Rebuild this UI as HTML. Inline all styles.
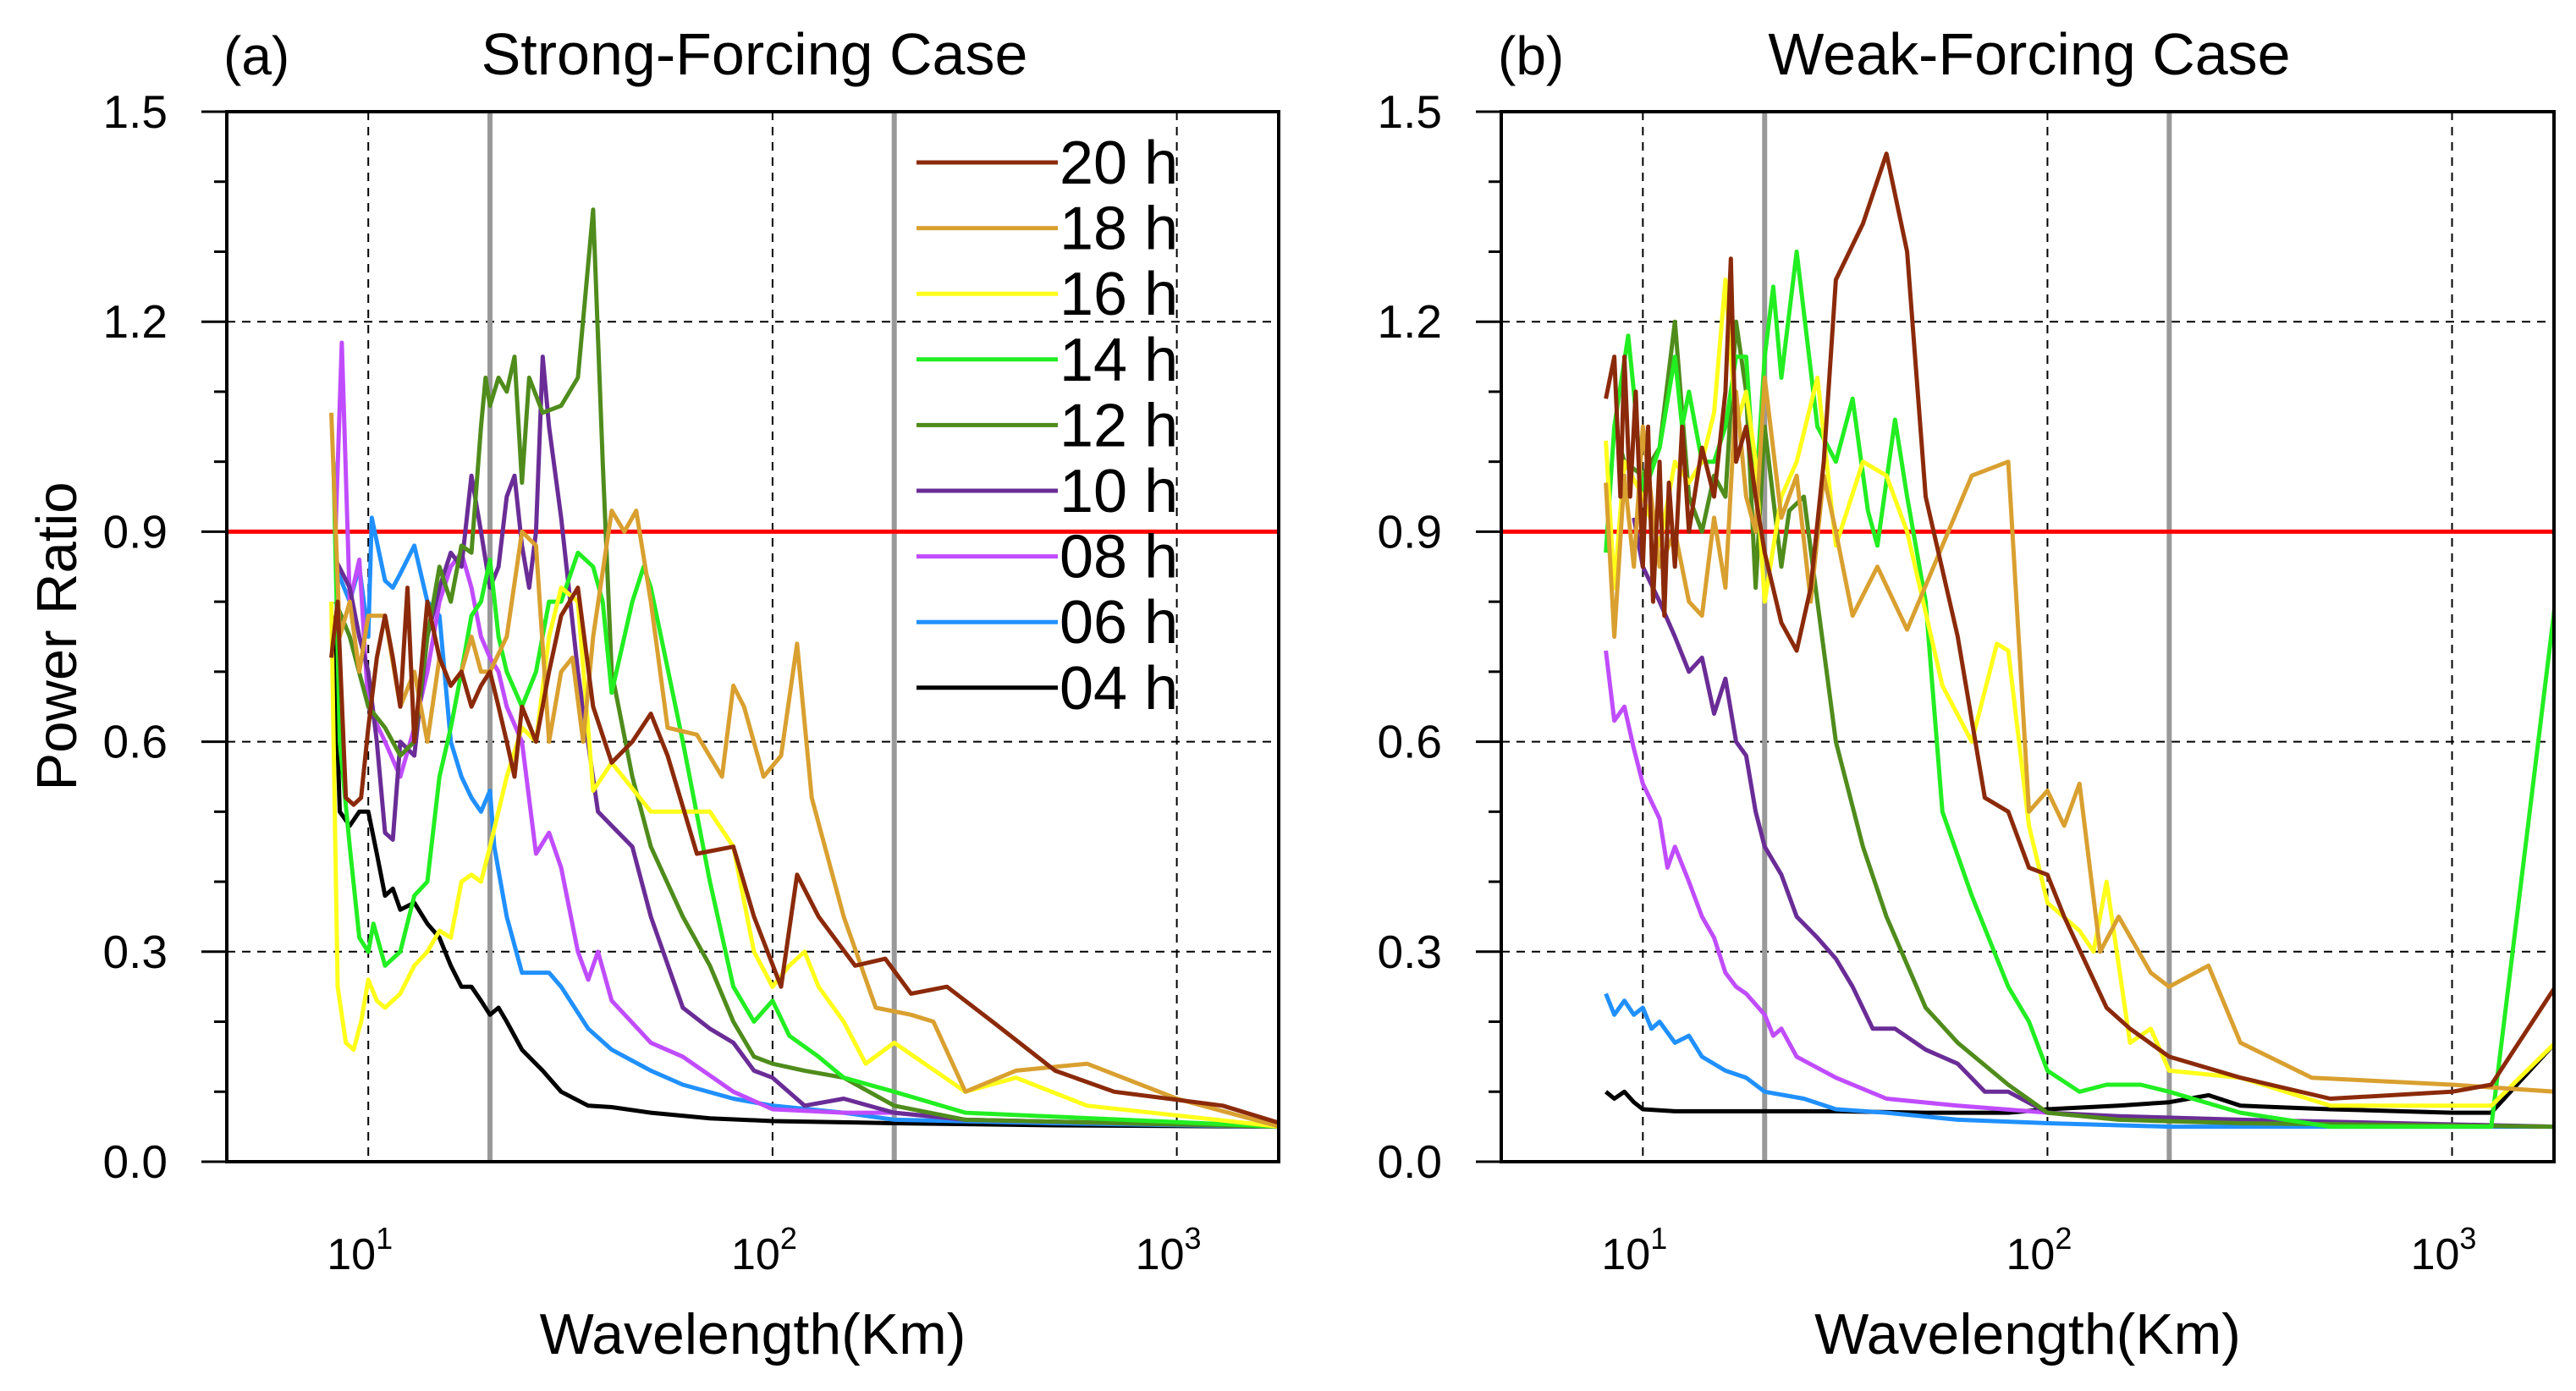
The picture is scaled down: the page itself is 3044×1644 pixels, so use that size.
<!DOCTYPE html>
<html><head><meta charset="utf-8"><style>
html,body{margin:0;padding:0;background:#fff}
svg{display:block;font-family:"Liberation Sans",sans-serif}
</style></head><body>
<svg id="chart" width="3044" height="1644" viewBox="0 0 3044 1644" xmlns="http://www.w3.org/2000/svg"></svg>
<script>
const yTicks = [0.0, 0.3, 0.6, 0.9, 1.2, 1.5];
const yTickLabels = ["0.0", "0.3", "0.6", "0.9", "1.2", "1.5"];
const xGrid = [10, 100, 1000];
const xTickExps = ["1", "2", "3"];
const refLines = [20, 200];
const threshold = 0.9;
const seriesNames = ["20 h","18 h","16 h","14 h","12 h","10 h","08 h","06 h","04 h"];
const seriesColors = ["#8b2a0a","#d9a030","#ffff1a","#22ee22","#4f8c1c","#6a2c96","#c04cff","#2090ff","#000000"];

// Panel (a) strong forcing
const a04x=[8.2,8.5,9,9.5,10,10.5,11,11.5,12,13,14,15,16,17,18,19,20,21,22,24,27,30,35,40,50,70,100,200,500,1800];
const a04y=[0.78,0.5,0.48,0.5,0.5,0.44,0.38,0.39,0.36,0.37,0.34,0.32,0.28,0.25,0.25,0.23,0.21,0.22,0.2,0.16,0.13,0.1,0.08,0.078,0.07,0.062,0.058,0.055,0.052,0.05];
const a06x=[8.3,9,9.5,10,10.2,11,11.5,12,13,14,15,16,17,18,19,20,20.5,22,24,26,28,30,35,40,50,60,80,100,150,200,500,1800];
const a06y=[0.85,0.8,0.85,0.75,0.92,0.83,0.82,0.84,0.88,0.8,0.78,0.6,0.55,0.52,0.5,0.53,0.45,0.35,0.27,0.27,0.27,0.25,0.19,0.16,0.13,0.11,0.09,0.08,0.07,0.06,0.055,0.05];
const a08x=[8.3,8.6,9,9.5,10,11,12,13,14,15,16,17,18,19,20,21,22,24,26,28,30,33,35,37,40,50,60,80,100,150,200,300,1800];
const a08y=[0.9,1.17,0.8,0.86,0.65,0.6,0.55,0.62,0.7,0.8,0.85,0.87,0.82,0.75,0.72,0.7,0.65,0.6,0.44,0.47,0.42,0.3,0.26,0.3,0.23,0.17,0.15,0.1,0.075,0.07,0.07,0.06,0.05];
const a10x=[8.3,9,9.5,10,10.5,11,11.5,12,13,14,15,16,17,18,19,20,21,22,23,24,25,26,27,28,30,33,37,40,45,50,60,70,80,90,100,120,150,200,300,1800];
const a10y=[0.86,0.82,0.75,0.7,0.6,0.47,0.46,0.6,0.58,0.75,0.82,0.87,0.85,0.98,0.9,0.82,0.85,0.95,0.98,0.88,0.82,0.9,1.15,1.05,0.92,0.7,0.5,0.48,0.45,0.35,0.22,0.19,0.17,0.13,0.12,0.08,0.09,0.07,0.06,0.05];
const a12x=[8.3,9,10,11,12,13,14,15,16,17,18,19,19.5,20,21,22,23,24,25,27,30,33,36,38,40,45,50,60,70,80,90,100,120,150,200,300,1800];
const a12y=[0.8,0.75,0.65,0.62,0.58,0.6,0.75,0.85,0.8,0.88,0.87,1.05,1.12,1.08,1.12,1.1,1.15,0.97,1.12,1.07,1.08,1.12,1.36,1.0,0.7,0.55,0.45,0.35,0.28,0.2,0.15,0.14,0.13,0.12,0.08,0.06,0.05];
const a14x=[8.2,8.5,9,9.5,10,10.3,11,12,13,14,15,16,17,18,19,20,21,22,24,26,28,30,33,36,38,40,45,48,50,60,70,80,90,100,110,130,150,200,300,1800];
const a14y=[1.0,0.6,0.45,0.32,0.3,0.34,0.28,0.3,0.38,0.4,0.55,0.62,0.7,0.78,0.8,0.86,0.75,0.7,0.65,0.7,0.8,0.8,0.87,0.85,0.8,0.67,0.8,0.85,0.82,0.6,0.4,0.25,0.2,0.23,0.18,0.15,0.12,0.1,0.07,0.05];
const a16x=[8.1,8.4,8.8,9.2,9.6,10,10.5,11,12,13,14,15,16,17,18,19,20,22,24,26,28,30,33,36,40,50,60,70,80,90,100,110,120,130,150,170,200,300,400,600,1800];
const a16y=[0.8,0.25,0.17,0.16,0.2,0.26,0.23,0.22,0.24,0.28,0.3,0.33,0.32,0.4,0.41,0.4,0.45,0.55,0.62,0.6,0.75,0.82,0.8,0.53,0.57,0.5,0.5,0.5,0.45,0.3,0.25,0.28,0.3,0.25,0.2,0.14,0.17,0.1,0.12,0.08,0.05];
const a18x=[8.1,8.5,9,9.5,10,11,12,13,14,15,16,17,18,19,20,22,24,26,28,30,32,34,36,40,43,46,50,55,65,75,80,85,95,105,115,125,150,180,220,250,300,400,600,1000,1800];
const a18y=[1.07,0.75,0.8,0.7,0.78,0.78,0.65,0.7,0.6,0.72,0.68,0.7,0.75,0.7,0.7,0.75,0.9,0.88,0.6,0.7,0.72,0.6,0.75,0.93,0.9,0.93,0.8,0.62,0.61,0.55,0.68,0.65,0.55,0.58,0.74,0.52,0.35,0.22,0.21,0.2,0.1,0.13,0.14,0.09,0.05];
const a20x=[8.1,8.4,8.8,9.2,9.6,10,10.5,11,11.5,12,12.5,13,13.5,14,15,16,17,18,19,20,21,22,23,24,26,28,30,33,36,40,45,50,55,65,80,90,105,115,130,160,190,220,270,350,500,700,1300,1800];
const a20y=[0.72,0.8,0.52,0.51,0.52,0.62,0.72,0.78,0.72,0.65,0.82,0.6,0.7,0.8,0.72,0.68,0.7,0.65,0.68,0.7,0.65,0.6,0.55,0.65,0.6,0.7,0.78,0.82,0.65,0.57,0.6,0.64,0.58,0.44,0.45,0.35,0.25,0.41,0.35,0.28,0.29,0.24,0.25,0.2,0.13,0.1,0.08,0.055];

// Panel (b) weak forcing
const b04x=[8.1,8.5,9,9.5,10,12,15,20,30,50,80,100,150,200,250,300,500,1000,1250,1500,1800];
const b04y=[0.1,0.09,0.1,0.085,0.075,0.072,0.072,0.072,0.072,0.07,0.07,0.075,0.08,0.085,0.095,0.08,0.075,0.07,0.07,0.12,0.17];
const b06x=[8.1,8.5,9,9.5,10,10.5,11,12,13,14,16,18,20,25,30,40,60,100,200,1800];
const b06y=[0.24,0.21,0.23,0.21,0.22,0.19,0.2,0.17,0.18,0.15,0.13,0.12,0.1,0.09,0.075,0.07,0.06,0.055,0.05,0.05];
const b08x=[8.1,8.5,9,9.5,10,11,11.5,12,13,14,15,16,17,18,20,21,22,24,30,40,60,100,200,1800];
const b08y=[0.73,0.63,0.65,0.59,0.54,0.49,0.42,0.45,0.4,0.35,0.32,0.27,0.25,0.24,0.21,0.18,0.19,0.15,0.12,0.09,0.08,0.07,0.06,0.05];
const b10x=[9.5,10,11,12,13,14,15,16,17,18,19,20,22,24,27,30,33,37,42,50,60,70,80,100,150,300,1800];
const b10y=[0.92,0.85,0.8,0.75,0.7,0.72,0.64,0.69,0.6,0.58,0.5,0.45,0.41,0.35,0.32,0.29,0.25,0.19,0.19,0.16,0.14,0.1,0.1,0.07,0.065,0.06,0.05];
const b12x=[8.5,9,10,11,12,13,14,15,16,17,18,19,20,22,23,25,27,30,35,40,50,60,80,100,150,300,1800];
const b12y=[1.05,1.0,0.98,1.02,1.2,0.95,0.9,0.98,0.95,1.2,1.1,0.82,1.05,0.85,0.93,0.95,0.8,0.6,0.45,0.35,0.22,0.17,0.11,0.07,0.06,0.055,0.05];
const b14x=[8.1,8.5,9.2,9.5,10,11,12,12.5,13,14,15,16,17,18,19,20,21,22,24,27,30,33,36,38,42,45,50,55,65,80,90,100,120,140,170,200,300,500,1250,1800];
const b14y=[0.87,1.05,1.18,1.1,0.95,1.02,1.15,1.05,1.1,1.0,1.0,1.05,1.15,1.15,0.95,1.15,1.25,1.12,1.3,1.05,1.0,1.09,0.93,0.88,1.06,0.95,0.8,0.5,0.38,0.25,0.2,0.13,0.1,0.11,0.11,0.1,0.07,0.05,0.05,0.8];
const b16x=[8.1,8.5,9,10,11,12,13,14,15,16,17,18,19,20,22,24,27,30,35,40,45,55,65,75,80,90,100,120,130,140,160,180,200,300,500,1250,1800];
const b16y=[1.03,0.82,1.0,0.95,0.88,1.0,0.97,1.0,1.07,1.26,1.05,1.1,1.0,0.8,0.95,1.0,1.12,0.88,1.0,0.98,0.9,0.68,0.6,0.74,0.73,0.48,0.37,0.33,0.3,0.4,0.17,0.19,0.13,0.12,0.08,0.08,0.17];
const b18x=[8.1,8.5,9,9.5,10,11,12,13,14,15,16,17,18,19,20,22,24,26,28,30,33,38,45,55,65,80,90,100,110,120,135,150,180,200,250,300,450,1000,1800];
const b18y=[0.97,0.75,0.98,0.85,1.05,0.85,0.9,0.8,0.78,0.92,0.82,1.1,0.95,0.9,1.12,0.92,0.98,0.8,0.98,0.9,0.78,0.85,0.76,0.88,0.98,1.0,0.5,0.53,0.48,0.54,0.3,0.35,0.27,0.25,0.28,0.17,0.12,0.11,0.1];
const b20x=[8.1,8.5,8.8,9,9.3,9.6,10,10.3,10.6,11,11.3,11.6,12,12.5,13,14,15,16,16.5,17,18,19,20,22,24,26,28,30,35,40,45,50,60,70,80,90,100,110,140,160,200,300,500,1000,1250,1800];
const b20y=[1.09,1.15,0.95,1.15,0.95,1.1,0.85,1.05,0.8,1.0,0.78,0.97,0.85,1.05,0.9,1.02,0.95,1.1,1.29,1.0,1.05,0.95,0.87,0.77,0.73,0.82,1.0,1.26,1.34,1.44,1.3,0.95,0.75,0.52,0.5,0.42,0.41,0.35,0.22,0.19,0.15,0.12,0.09,0.1,0.11,0.25];

const panelA = [[a20x,a20y],[a18x,a18y],[a16x,a16y],[a14x,a14y],[a12x,a12y],[a10x,a10y],[a08x,a08y],[a06x,a06y],[a04x,a04y]];
const panelB = [[b20x,b20y],[b18x,b18y],[b16x,b16y],[b14x,b14y],[b12x,b12y],[b10x,b10y],[b08x,b08y],[b06x,b06y],[b04x,b04y]];

const NS="http://www.w3.org/2000/svg";
const svg=document.getElementById('chart');
function mk(tag,attrs,parent){const e=document.createElementNS(NS,tag);for(const k in attrs)e.setAttribute(k,attrs[k]);(parent||svg).appendChild(e);return e;}

const LMIN=0.65, LMAX=3.252, Y0=1373, Y1=132;
function makePanel(left,right,data,letter,title,showLegend,showYTitle,pname){
  const g=mk('g',{});
  
  
  const xs=v=>left+(Math.log10(v)-LMIN)/(LMAX-LMIN)*(right-left);
  const ys=v=>Y0-v/1.5*(Y0-Y1);
  const clipId='clip'+letter;
  const cp=mk('clipPath',{id:clipId},g);mk('rect',{x:left,y:Y1,width:right-left,height:Y0-Y1},cp);
  yTicks.forEach((t,i)=>{ if(i>0&&i<yTicks.length-1){const l=mk('line',{x1:left,x2:right,y1:ys(t),y2:ys(t),stroke:'#000','stroke-width':2,'stroke-dasharray':'10,8'},g);
    
    }});
  xGrid.forEach(v=>{const l=mk('line',{x1:xs(v),x2:xs(v),y1:Y1,y2:Y0,stroke:'#000','stroke-width':2,'stroke-dasharray':'10,8'},g);
    
    });
  refLines.forEach(v=>{const l=mk('line',{x1:xs(v),x2:xs(v),y1:Y1,y2:Y0,stroke:'#999','stroke-width':6},g);
    
    });
  const th=mk('line',{x1:left,x2:right,y1:ys(threshold),y2:ys(threshold),stroke:'#ff0000','stroke-width':5},g);
  
  
  const sg=mk('g',{'clip-path':'url(#'+clipId+')'},g);
  for(let i=data.length-1;i>=0;i--){
    const [X,Y]=data[i];
    const d=X.map((x,j)=>(j?'L':'M')+xs(x).toFixed(1)+','+ys(Y[j]).toFixed(1)).join('');
    const p=mk('path',{d:d,fill:'none',stroke:seriesColors[i],'stroke-width':5,'stroke-linejoin':'round'},sg);
    
    
  }
  const fr=mk('rect',{x:left,y:Y1,width:right-left,height:Y0-Y1,fill:'none',stroke:'#000','stroke-width':4},g);
  
  
  for(let k=0;k<=15;k++){const v=k/10;const major=(k%3===0);
    mk('line',{x1:left-(major?30:15),x2:left,y1:ys(v),y2:ys(v),stroke:'#000','stroke-width':3},g);}
  yTicks.forEach((t,i)=>{const tx=mk('text',{x:left-70,y:ys(t)+19,'text-anchor':'end','font-size':55},g);tx.textContent=yTickLabels[i];
    
    });
  xGrid.forEach((v,i)=>{const tx=mk('text',{x:xs(v)-10,y:1500,'text-anchor':'middle','font-size':52},g);
    
    
    tx.textContent='10';const s=mk('tspan',{dy:-24,'font-size':36},tx);s.textContent=xTickExps[i];});
  const xt=mk('text',{x:(left+right)/2,y:1600,'text-anchor':'middle','font-size':68},g);xt.textContent='Wavelength(Km)';
  
  
  const lt=mk('text',{x:left-4,y:88,'font-size':64},g);lt.textContent='('+letter+')';
  
  
  const tt=mk('text',{x:(left+right)/2+2,y:88,'text-anchor':'middle','font-size':70},g);tt.textContent=title;
  
  
  if(showYTitle){const yt=mk('text',{x:0,y:0,'text-anchor':'middle','font-size':67,transform:'translate(90,752) rotate(-90)'},g);yt.textContent='Power Ratio';
    
    }
  if(showLegend){const lg=mk('g',{},g);
    
    
    seriesNames.forEach((n,i)=>{const y=192+i*77.6;
      const ln=mk('line',{x1:1083,x2:1250,y1:y,y2:y,stroke:seriesColors[i],'stroke-width':5},lg);
      
      
      const t=mk('text',{x:1252,y:y+25,'font-size':72},lg);t.textContent=n;
      
      });}
}
makePanel(268,1511,panelA,'a','Strong-Forcing Case',true,true,'panel-strong-forcing');
makePanel(1774,3018,panelB,'b','Weak-Forcing Case',false,false,'panel-weak-forcing');
</script>
</body></html>
